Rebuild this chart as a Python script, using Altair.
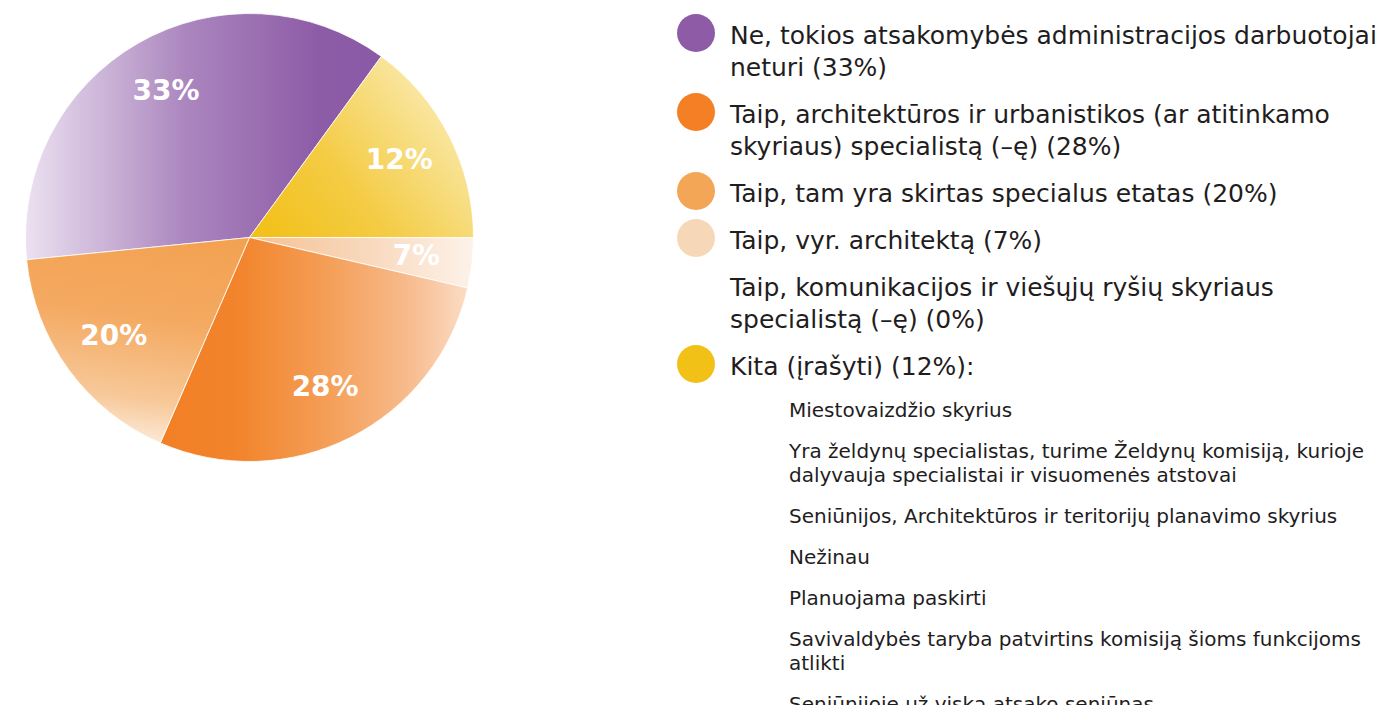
import math
import altair as alt
import pandas as pd

# ---------------- data ----------------
# pie slices, clockwise starting at the left edge of the purple slice
slice_keys = ["ne", "kita", "vyr", "arch", "etatas"]
slice_shares = [36.6, 15.0, 3.6, 27.9, 16.9]          # visual share of each slice
slice_labels = ["33%", "12%", "7%", "28%", "20%"]

# legend entries (already wrapped as in the reference)
main_items = [
    ["Ne, tokios atsakomybės administracijos darbuotojai", "neturi (33%)"],
    ["Taip, architektūros ir urbanistikos (ar atitinkamo", "skyriaus) specialistą (–ę) (28%)"],
    ["Taip, tam yra skirtas specialus etatas (20%)"],
    ["Taip, vyr. architektą (7%)"],
    ["Taip, komunikacijos ir viešųjų ryšių skyriaus", "specialistą (–ę) (0%)"],
    ["Kita (įrašyti) (12%):"],
]
main_colors = ["#8e5ba7", "#f47f25", "#f4a657", "#f6d8b9", None, "#f2c117"]

other_answers = [
    ["Miestovaizdžio skyrius"],
    ["Yra želdynų specialistas, turime Želdynų komisiją, kurioje",
     "dalyvauja specialistai ir visuomenės atstovai"],
    ["Seniūnijos, Architektūros ir teritorijų planavimo skyrius"],
    ["Nežinau"],
    ["Planuojama paskirti"],
    ["Savivaldybės taryba patvirtins komisiją šioms funkcijoms", "atlikti"],
    ["Seniūnijoje už viską atsako seniūnas"],
]

# ---------------- styles ----------------
def grad(stops, x1=0, y1=0, x2=1, y2=0):
    return alt.Gradient(
        gradient="linear",
        stops=[alt.GradientStop(color=c, offset=o) for o, c in stops],
        x1=x1, y1=y1, x2=x2, y2=y2,
    )

slice_fills = {
    "ne": grad([(0, "#ebe1f0"), (0.45, "#ab86be"), (0.82, "#8d5ca7"), (1, "#8b5aa6")]),
    "kita": grad([(0, "#f2bf14"), (0.45, "#f4cc45"), (1, "#faebb2")], x1=0, y1=1, x2=1, y2=0.35),
    "vyr": grad([(0, "#f5c195"), (0.5, "#f8d7ba"), (1, "#fdf2e9")]),
    "arch": grad([(0, "#f27f24"), (0.25, "#f2842c"), (0.52, "#f49c53"), (0.8, "#f7ba8b"), (1, "#fbdcc5")]),
    "etatas": grad([(0, "#f3a252"), (0.4, "#f4aa62"), (0.78, "#f7c898"), (1, "#fcecdc")],
                   x1=0.6, y1=0, x2=0.45, y2=1),
}

W, H = 1381, 697
CX, CY, R = 241.5, 229.5, 224
START_DEG = 264.3
a0 = math.radians(START_DEG)
theta_scale = alt.Scale(domain=[0, 100], range=[a0, a0 + 2 * math.pi])

MAIN_FONT = "DejaVu Sans"
TEXT_COLOR = "#1f1d1e"

# ---------------- pie ----------------
pie_df = pd.DataFrame({
    "key": slice_keys,
    "share": slice_shares,
    "label": slice_labels,
    "order": list(range(len(slice_keys))),
})

base = (
    alt.Chart(pie_df)
    .transform_window(cum="sum(share)", sort=[alt.SortField("order")], frame=[None, 0])
    .transform_calculate(start="datum.cum - datum.share", mid="datum.cum - datum.share / 2")
)

layers = []
for k in slice_keys:
    layers.append(
        base.transform_filter(alt.datum.key == k)
        .mark_arc(radius=R, fill=slice_fills[k], stroke="white", strokeWidth=0.8)
        .encode(
            theta=alt.Theta("start:Q", scale=theta_scale),
            theta2="cum:Q",
            x=alt.value(CX),
            y=alt.value(CY),
        )
    )

pct_labels = base.mark_text(
    font=MAIN_FONT, fontWeight="bold", fontSize=28, color="white",
    radius=168, align="center", baseline="middle",
).encode(
    theta=alt.Theta("mid:Q", scale=theta_scale, stack=False),
    text="label:N",
    x=alt.value(CX),
    y=alt.value(CY),
)
layers.append(pct_labels)

# ---------------- legend (layout computed from the lists) ----------------
MAIN_X, SUB_X, DOT_X = 722, 781, 688
FIRST_BASE = 36
MAIN_LH, MAIN_GAP = 32, 47
SUB_LH, SUB_GAP, SUB_FIRST = 24, 41, 42

main_rows, dot_rows, sub_rows = [], [], []
yb = FIRST_BASE
for i, (lines, col) in enumerate(zip(main_items, main_colors)):
    if i > 0:
        yb += MAIN_GAP
    if col is not None:
        dot_rows.append({"px": DOT_X, "py": yb - 11, "col": col})
    for j, ln in enumerate(lines):
        if j > 0:
            yb += MAIN_LH
        main_rows.append({"px": MAIN_X, "py": yb, "txt": ln})

for i, lines in enumerate(other_answers):
    yb += SUB_FIRST if i == 0 else SUB_GAP
    for j, ln in enumerate(lines):
        if j > 0:
            yb += SUB_LH
        sub_rows.append({"px": SUB_X, "py": yb, "txt": ln})

dots = alt.Chart(pd.DataFrame(dot_rows)).mark_point(
    shape="circle", filled=True, size=38 * 38, opacity=1, strokeWidth=0
).encode(
    x=alt.X("px:Q", scale=None),
    y=alt.Y("py:Q", scale=None),
    color=alt.Color("col:N", scale=None),
)

main_text = alt.Chart(pd.DataFrame(main_rows)).mark_text(
    font=MAIN_FONT, fontSize=25, color=TEXT_COLOR, align="left", baseline="alphabetic"
).encode(
    x=alt.X("px:Q", scale=None),
    y=alt.Y("py:Q", scale=None),
    text="txt:N",
)

sub_text = alt.Chart(pd.DataFrame(sub_rows)).mark_text(
    font=MAIN_FONT, fontSize=20, color=TEXT_COLOR, align="left", baseline="alphabetic"
).encode(
    x=alt.X("px:Q", scale=None),
    y=alt.Y("py:Q", scale=None),
    text="txt:N",
)

layers += [dots, main_text, sub_text]

chart = (
    alt.layer(*layers)
    .properties(
        width=W, height=H,
        autosize=alt.AutoSizeParams(type="fit", contains="padding"),
        padding=0,
    )
    .configure_view(stroke=None)
)

chart.save("out.html", embed_options={"renderer": "svg", "actions": False})
